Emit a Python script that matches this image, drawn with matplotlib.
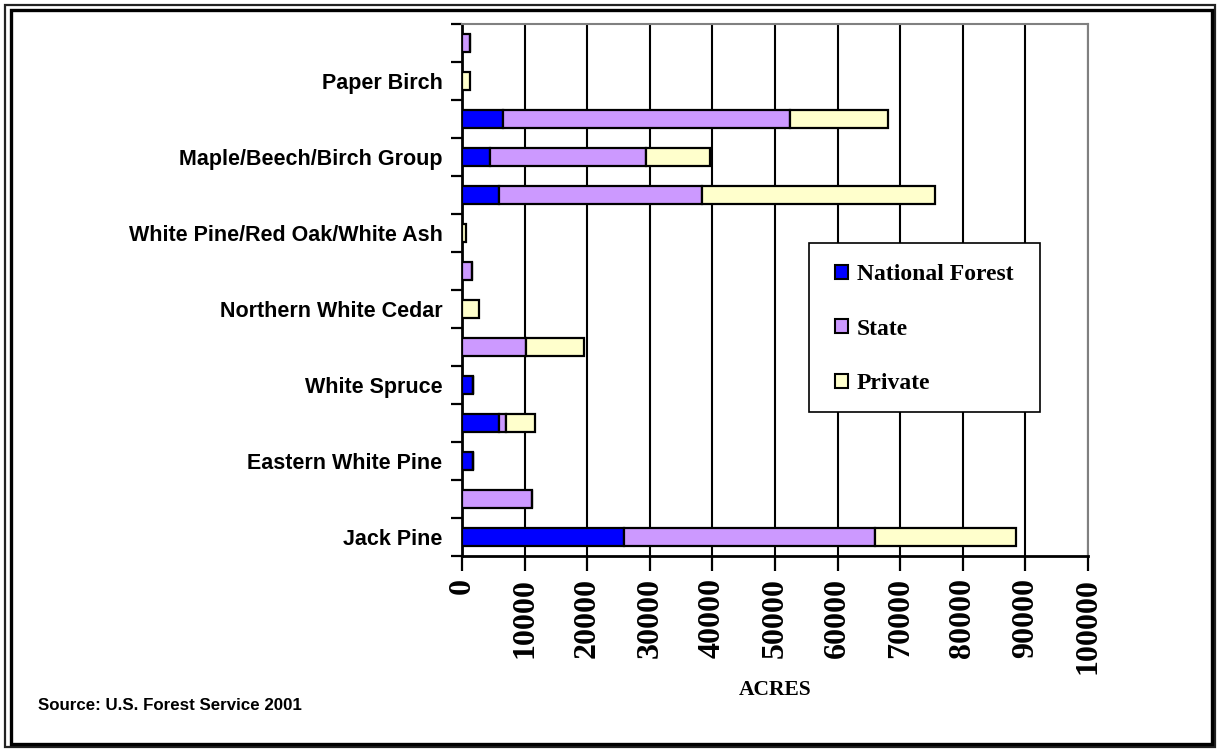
import matplotlib
matplotlib.use("Agg")
import matplotlib.pyplot as plt
from matplotlib.patches import Rectangle, Patch
import numpy as np

# Categories bottom -> top (unlabeled rows in the original shown as "")
categories = ["Jack Pine", "", "Eastern White Pine", "", "White Spruce", "",
              "Northern White Cedar", "", "White Pine/Red Oak/White Ash", "",
              "Maple/Beech/Birch Group", "", "Paper Birch", ""]
national_forest = [25950, 0, 1700, 5850, 1700, 0, 0, 0, 0, 5850, 4500, 6500, 0, 0]
state = [40000, 11250, 0, 1150, 0, 10250, 0, 1650, 0, 32550, 24900, 45900, 0, 1300]
private = [22500, 0, 0, 4600, 0, 9300, 2650, 0, 700, 37100, 10200, 15600, 1300, 0]
series_names = ["National Forest", "State", "Private"]
series_colors = ["#0000FF", "#CC99FF", "#FFFFCC"]
x_ticks = list(range(0, 100001, 10000))

W, H = 1218, 749
fig = plt.figure(figsize=(W / 100, H / 100), dpi=100)

def fx(px):
    return px / W

def fy(py):
    return 1 - py / H

# double border
def frame_rect(x0, y0, x1, y1, lw, color, z=0):
    fig.patches.append(Rectangle((fx(x0), fy(y1)), (x1 - x0) / W, (y1 - y0) / H,
                                 transform=fig.transFigure, fill=False, lw=lw,
                                 edgecolor=color, zorder=z))
frame_rect(5, 5, 1215, 747, 1.6, "#222222")
frame_rect(11, 10, 1212, 744, 2.4, "#000000")

ax = fig.add_axes([fx(462), fy(555.7), (1088 - 462) / W, (555.7 - 24) / H])

y = np.arange(len(categories))
series = [national_forest, state, private]
left = np.zeros(len(categories))
for vals, name, col in zip(series, series_names, series_colors):
    v = np.array(vals, dtype=float)
    ax.barh(y, v, left=left, height=0.47, color=col, edgecolor="black",
            linewidth=1.6, label=name, zorder=3)
    left += v

ax.set_xlim(0, 100000)
ax.set_ylim(-0.5, len(categories) - 0.5)

ax.set_xticks(x_ticks)
ax.set_xticklabels([str(t) for t in x_ticks], rotation=90,
                   fontfamily="Liberation Serif", fontweight="bold", fontsize=23)
ax.xaxis.grid(True, color="black", linewidth=1.5, zorder=0)
ax.set_axisbelow(True)

ax.set_yticks(y)
ax.set_yticklabels(categories, fontfamily="Liberation Sans", fontweight="bold",
                   fontsize=15.5)
ax.set_yticks(np.arange(-0.5, len(categories), 1.0), minor=True)
ax.tick_params(axis="y", which="major", length=0, pad=14)
ax.tick_params(axis="y", which="minor", length=8, width=1.6, direction="out")
ax.tick_params(axis="x", which="major", length=11, width=1.6, direction="out", pad=5)

for s in ["left", "bottom"]:
    ax.spines[s].set_color("black")
    ax.spines[s].set_linewidth(2)
for s in ["top", "right"]:
    ax.spines[s].set_color("#808080")
    ax.spines[s].set_linewidth(1.5)

fig.text(fx(775), fy(690), "ACRES", fontfamily="Liberation Serif", fontweight="bold",
         fontsize=15.5, ha="center", va="center")

# legend: manual frame + frameless legend
fig.patches.append(Rectangle((fx(809), fy(412)), (1040 - 809) / W, (412 - 243) / H,
                             transform=fig.transFigure, facecolor="white",
                             edgecolor="black", lw=1.2, zorder=4))
handles = [Patch(facecolor=c, edgecolor="black", linewidth=1.5) for c in series_colors]
leg = fig.legend(handles, series_names, loc="upper left",
                 bbox_to_anchor=(fx(835), fy(264)), bbox_transform=fig.transFigure,
                 frameon=False,
                 prop={"family": "Liberation Serif", "weight": "bold", "size": 17},
                 handlelength=0.55, handleheight=0.55, handletextpad=0.38,
                 labelspacing=1.42, borderpad=0, borderaxespad=0)
leg.set_zorder(6)

fig.text(fx(38), fy(706), "Source: U.S. Forest Service 2001",
         fontfamily="Liberation Sans", fontweight="bold", fontsize=12.2,
         ha="left", va="center")

fig.savefig("out.png", dpi=100)
